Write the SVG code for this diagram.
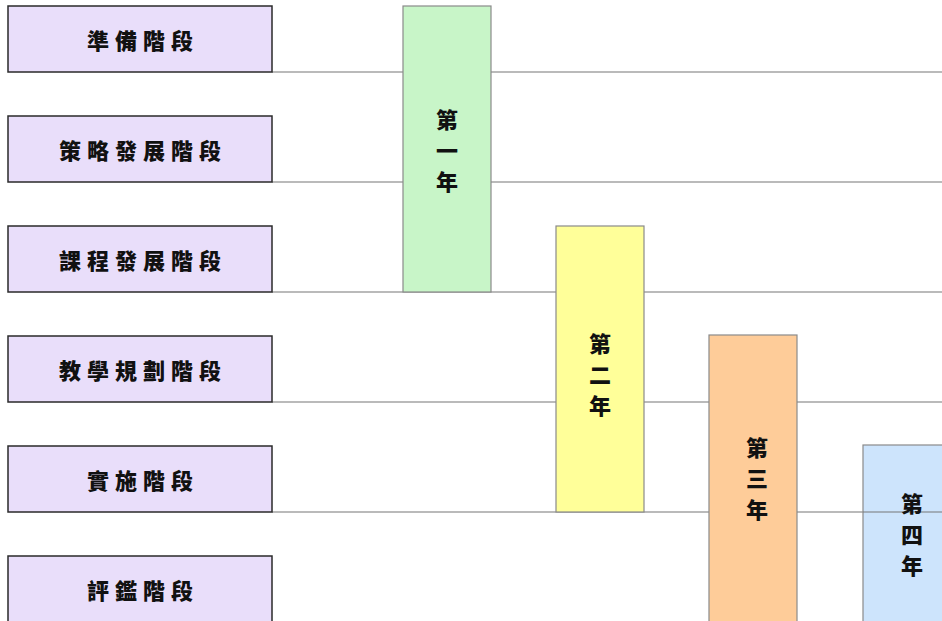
<svg xmlns="http://www.w3.org/2000/svg" width="942" height="621" viewBox="0 0 942 621">
<style>
.stage rect{fill:#E9DEFA;stroke:#2a2a2a;stroke-width:1.5}
.lbl{font-family:"Noto Sans CJK TC","Noto Sans CJK SC",sans-serif;font-weight:900;font-size:22px;fill:#111;text-anchor:middle;dominant-baseline:central;letter-spacing:6px}
.yr{font-family:"Noto Sans CJK TC","Noto Sans CJK SC",sans-serif;font-weight:900;font-size:22px;fill:#111;text-anchor:middle;dominant-baseline:central}
.bar{stroke:#8a8a8a;stroke-width:1.2}
.ln{stroke:#777;stroke-width:1.2}
</style>
<rect width="942" height="621" fill="#fff"/>
<g id="connectors">
<line class="ln" x1="272" y1="72" x2="942" y2="72"/>
<line class="ln" x1="272" y1="182" x2="942" y2="182"/>
<line class="ln" x1="272" y1="292" x2="942" y2="292"/>
<line class="ln" x1="272" y1="402" x2="942" y2="402"/>
<line class="ln" x1="272" y1="512" x2="942" y2="512"/>
</g>
<g id="stage1" class="stage"><rect x="8" y="6" width="264" height="66"/><text class="lbl" x="143" y="39">準備階段</text></g>
<g id="stage2" class="stage"><rect x="8" y="116" width="264" height="66"/><text class="lbl" x="143" y="149">策略發展階段</text></g>
<g id="stage3" class="stage"><rect x="8" y="226" width="264" height="66"/><text class="lbl" x="143" y="259">課程發展階段</text></g>
<g id="stage4" class="stage"><rect x="8" y="336" width="264" height="66"/><text class="lbl" x="143" y="369">教學規劃階段</text></g>
<g id="stage5" class="stage"><rect x="8" y="446" width="264" height="66"/><text class="lbl" x="143" y="479">實施階段</text></g>
<g id="stage6" class="stage"><rect x="8" y="556" width="264" height="70"/><text class="lbl" x="143" y="589">評鑑階段</text></g>
<g id="year1"><rect class="bar" x="403" y="6" width="88" height="286" fill="#C8F5C8"/>
<text class="yr" x="447" y="118">第</text><text class="yr" x="447" y="149">一</text><text class="yr" x="447" y="180">年</text></g>
<g id="year2"><rect class="bar" x="556" y="226" width="88" height="286" fill="#FFFF99"/>
<text class="yr" x="600" y="342">第</text><text class="yr" x="600" y="373">二</text><text class="yr" x="600" y="404">年</text></g>
<g id="year3"><rect class="bar" x="709" y="335" width="88" height="295" fill="#FECC99"/>
<text class="yr" x="757" y="446">第</text><text class="yr" x="757" y="477">三</text><text class="yr" x="757" y="508">年</text></g>
<g id="year4"><rect class="bar" x="863" y="445" width="90" height="185" fill="#CDE4FC"/>
<line class="ln" x1="863" y1="512" x2="942" y2="512"/>
<text class="yr" x="912" y="502">第</text><text class="yr" x="912" y="533">四</text><text class="yr" x="912" y="564">年</text></g>
</svg>
